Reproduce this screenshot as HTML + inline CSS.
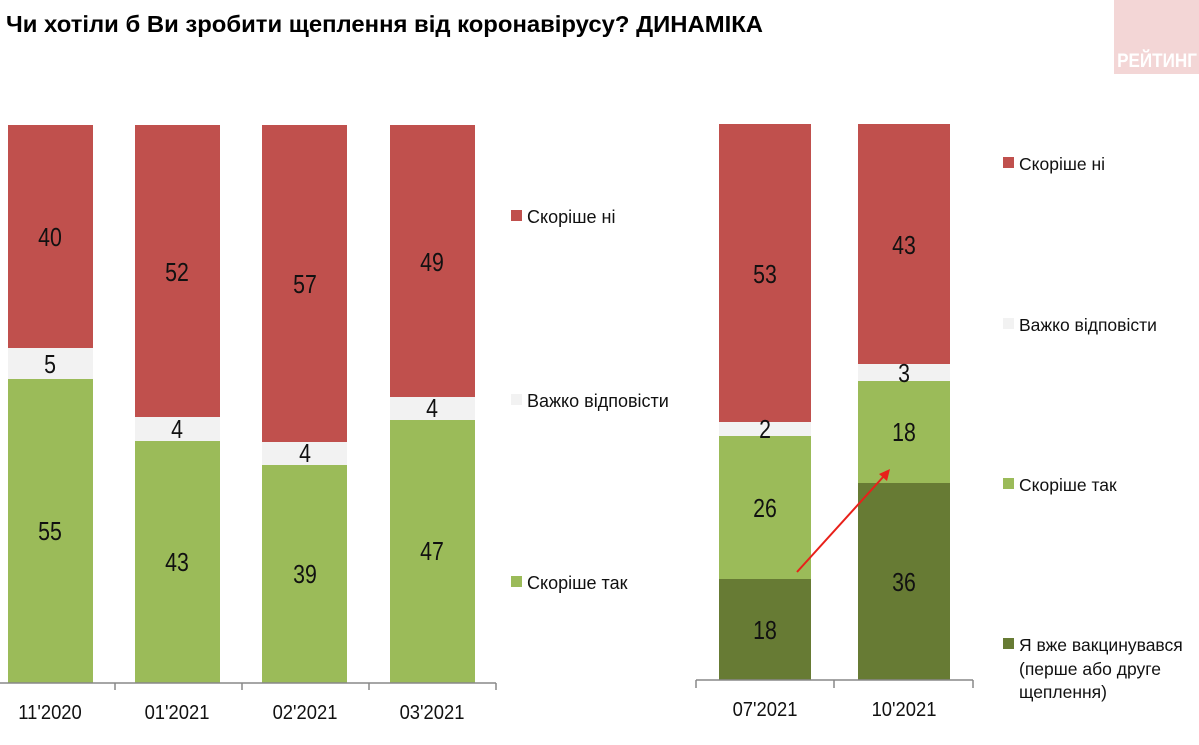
<!DOCTYPE html>
<html><head><meta charset="utf-8"><style>
body{margin:0;width:1199px;height:740px;background:#fff;overflow:hidden;font-family:"Liberation Sans",sans-serif}
</style></head><body>
<svg width="1199" height="740" xmlns="http://www.w3.org/2000/svg" font-family="Liberation Sans, sans-serif">
<rect x="1114" y="0" width="85" height="74" fill="#f3d6d6"/>
<text transform="translate(1157,67) scale(0.9,1)" font-size="19" font-weight="bold" fill="#fff" text-anchor="middle">РЕЙТИНГ</text>
<text x="6" y="32" font-size="23" font-weight="bold" fill="#000" textLength="757" lengthAdjust="spacingAndGlyphs">Чи хотіли б Ви зробити щеплення від коронавірусу? ДИНАМІКА</text>
<g>
<rect x="8" y="125" width="85" height="223" fill="#c0504d"/><rect x="8" y="348" width="85" height="31" fill="#f2f2f2"/><rect x="8" y="379" width="85" height="304" fill="#9bbb59"/>
<rect x="135" y="125" width="85" height="292" fill="#c0504d"/><rect x="135" y="417" width="85" height="24" fill="#f2f2f2"/><rect x="135" y="441" width="85" height="242" fill="#9bbb59"/>
<rect x="262" y="125" width="85" height="317" fill="#c0504d"/><rect x="262" y="442" width="85" height="23" fill="#f2f2f2"/><rect x="262" y="465" width="85" height="218" fill="#9bbb59"/>
<rect x="390" y="125" width="85" height="272" fill="#c0504d"/><rect x="390" y="397" width="85" height="23" fill="#f2f2f2"/><rect x="390" y="420" width="85" height="263" fill="#9bbb59"/>
<rect x="719" y="124" width="92" height="298" fill="#c0504d"/><rect x="719" y="422" width="92" height="14" fill="#f2f2f2"/><rect x="719" y="436" width="92" height="143" fill="#9bbb59"/><rect x="719" y="579" width="92" height="101" fill="#677b34"/>
<rect x="858" y="124" width="92" height="240" fill="#c0504d"/><rect x="858" y="364" width="92" height="17" fill="#f2f2f2"/><rect x="858" y="381" width="92" height="102" fill="#9bbb59"/><rect x="858" y="483" width="92" height="197" fill="#677b34"/>
</g>
<g stroke="#888" stroke-width="1.5" fill="none">
<path d="M0 683H496M115 683V690M242 683V690M369 683V690M496 683V690"/>
<path d="M696 680H973M696 680V688M834 680V688M973 680V688"/>
</g>
<g font-size="26" text-anchor="middle" fill="#111">
<text transform="translate(50,246) scale(0.82,1)">40</text><text transform="translate(50,373) scale(0.82,1)">5</text><text transform="translate(50,540) scale(0.82,1)">55</text>
<text transform="translate(177,281) scale(0.82,1)">52</text><text transform="translate(177,438) scale(0.82,1)">4</text><text transform="translate(177,571) scale(0.82,1)">43</text>
<text transform="translate(305,293) scale(0.82,1)">57</text><text transform="translate(305,462) scale(0.82,1)">4</text><text transform="translate(305,583) scale(0.82,1)">39</text>
<text transform="translate(432,271) scale(0.82,1)">49</text><text transform="translate(432,417) scale(0.82,1)">4</text><text transform="translate(432,560) scale(0.82,1)">47</text>
<text transform="translate(765,283) scale(0.82,1)">53</text><text transform="translate(765,438) scale(0.82,1)">2</text><text transform="translate(765,517) scale(0.82,1)">26</text><text transform="translate(765,639) scale(0.82,1)">18</text>
<text transform="translate(904,254) scale(0.82,1)">43</text><text transform="translate(904,382) scale(0.82,1)">3</text><text transform="translate(904,441) scale(0.82,1)">18</text><text transform="translate(904,591) scale(0.82,1)">36</text>
</g>
<g font-size="20" text-anchor="middle" fill="#111">
<text transform="translate(50,719) scale(0.92,1)">11'2020</text><text transform="translate(177,719) scale(0.92,1)">01'2021</text><text transform="translate(305,719) scale(0.92,1)">02'2021</text><text transform="translate(432,719) scale(0.92,1)">03'2021</text>
<text transform="translate(765,716) scale(0.92,1)">07'2021</text><text transform="translate(904,716) scale(0.92,1)">10'2021</text>
</g>
<line x1="797" y1="572" x2="884" y2="476" stroke="#e8201a" stroke-width="2"/>
<polygon points="890,469 879,474 887,481" fill="#e8201a"/>
<g font-size="18" fill="#111">
<rect x="511" y="210" width="11" height="11" fill="#c0504d"/><text x="527" y="223">Скоріше ні</text>
<rect x="511" y="394" width="11" height="11" fill="#f2f2f2"/><text x="527" y="407">Важко відповісти</text>
<rect x="511" y="576" width="11" height="11" fill="#9bbb59"/><text x="527" y="589">Скоріше так</text>
</g>
<g font-size="17.5" fill="#111">
<rect x="1003" y="157" width="11" height="11" fill="#c0504d"/><text x="1019" y="170">Скоріше ні</text>
<rect x="1003" y="318" width="11" height="11" fill="#f2f2f2"/><text x="1019" y="331">Важко відповісти</text>
<rect x="1003" y="478" width="11" height="11" fill="#9bbb59"/><text x="1019" y="491">Скоріше так</text>
<rect x="1003" y="638" width="11" height="11" fill="#677b34"/><text x="1019" y="651">Я вже вакцинувався</text>
<text x="1019" y="675">(перше або друге</text><text x="1019" y="698">щеплення)</text>
</g>
</svg>
</body></html>
